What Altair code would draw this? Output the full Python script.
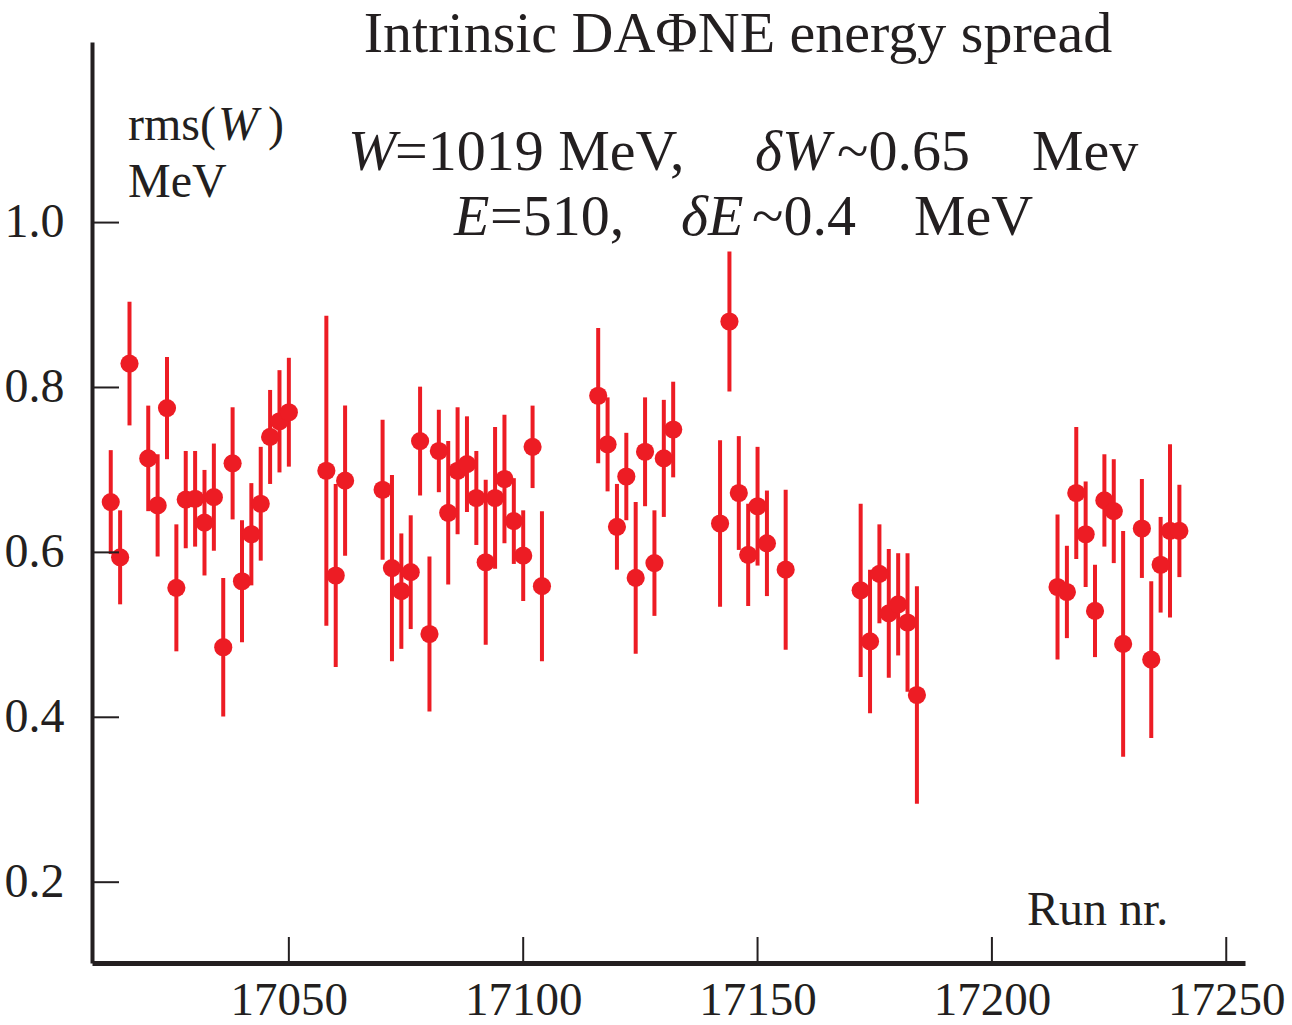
import altair as alt
import pandas as pd

# ---- data ----
run = [17012, 17014, 17016, 17020, 17022, 17024, 17026, 17028, 17030, 17032,
       17034, 17036, 17038, 17040, 17042, 17044, 17046, 17048, 17050,
       17058, 17060, 17062, 17070, 17072, 17074, 17076, 17078, 17080, 17082,
       17084, 17086, 17088, 17090, 17092, 17094, 17096, 17098, 17100, 17102, 17104,
       17116, 17118, 17120, 17122, 17124, 17126, 17128, 17130, 17132,
       17142, 17144, 17146, 17148, 17150, 17152, 17156,
       17172, 17174, 17176, 17178, 17180, 17182, 17184,
       17214, 17216, 17218, 17220, 17222, 17224, 17226, 17228,
       17232, 17234, 17236, 17238, 17240]

rms_w = [0.661, 0.594, 0.829, 0.714, 0.657, 0.775, 0.557, 0.664, 0.665, 0.636,
         0.667, 0.485, 0.708, 0.565, 0.622, 0.659, 0.740, 0.759, 0.770,
         0.699, 0.572, 0.687, 0.676, 0.581, 0.553, 0.576, 0.735, 0.501, 0.723,
         0.648, 0.699, 0.707, 0.666, 0.588, 0.666, 0.689, 0.638, 0.596, 0.728, 0.559,
         0.790, 0.731, 0.631, 0.692, 0.569, 0.722, 0.587, 0.714, 0.749,
         0.635, 0.880, 0.672, 0.597, 0.656, 0.611, 0.579,
         0.554, 0.492, 0.574, 0.526, 0.537, 0.515, 0.427,
         0.558, 0.552, 0.672, 0.622, 0.529, 0.663, 0.650, 0.489,
         0.629, 0.470, 0.585, 0.626, 0.626]

rms_err = [0.063, 0.057, 0.075, 0.064, 0.062, 0.062, 0.077, 0.059, 0.058, 0.064,
           0.065, 0.084, 0.068, 0.074, 0.062, 0.069, 0.057, 0.062, 0.066,
           0.188, 0.111, 0.091, 0.085, 0.113, 0.070, 0.069, 0.066, 0.094, 0.050,
           0.087, 0.077, 0.058, 0.057, 0.100, 0.086, 0.078, 0.052, 0.055, 0.050, 0.091,
           0.082, 0.057, 0.052, 0.053, 0.092, 0.066, 0.064, 0.071, 0.058,
           0.101, 0.085, 0.069, 0.062, 0.072, 0.064, 0.097,
           0.105, 0.087, 0.060, 0.078, 0.062, 0.084, 0.132,
           0.088, 0.056, 0.080, 0.064, 0.056, 0.056, 0.063, 0.137,
           0.060, 0.095, 0.058, 0.105, 0.056]

x_ticks = [17050, 17100, 17150, 17200, 17250]
y_ticks = [0.2, 0.4, 0.6, 0.8, 1.0]

# ---- layout / style ----
W, H = 1153, 921
RED = "#ed1c24"
INK = "#231f20"
FONT = "Liberation Serif"

df = pd.DataFrame({"run": run, "rms": rms_w, "err": rms_err})
df["lo"] = df["rms"] - df["err"]
df["hi"] = df["rms"] + df["err"]

xs = alt.Scale(domain=[17008, 17254], nice=False, zero=False)
ys = alt.Scale(domain=[0.102, 1.219], nice=False, zero=False)

x_axis = alt.Axis(values=x_ticks, format="d", ticks=False, grid=False, title=None,
                  domainColor=INK, domainWidth=5, labelFont=FONT, labelFontSize=47,
                  labelColor=INK, labelPadding=14, labelFlush=False)
y_axis = alt.Axis(values=y_ticks, format=".1f", ticks=False, grid=False, title=None,
                  domainColor=INK, domainWidth=4, labelFont=FONT, labelFontSize=48,
                  labelColor=INK, labelPadding=28, labelFlush=False)

base = alt.Chart(df)

bars = base.mark_rule(color=RED, strokeWidth=4).encode(
    x=alt.X("run:Q", scale=xs, axis=x_axis),
    y=alt.Y("lo:Q", scale=ys, axis=y_axis),
    y2="hi:Q",
)
dots = base.mark_circle(color=RED, size=330, opacity=1).encode(
    x=alt.X("run:Q", scale=xs),
    y=alt.Y("rms:Q", scale=ys),
)

# inward ticks
yt = alt.Chart(pd.DataFrame({"v": y_ticks})).mark_rule(color=INK, strokeWidth=2).encode(
    y=alt.Y("v:Q", scale=ys), x=alt.value(0), x2=alt.value(27))
xt = alt.Chart(pd.DataFrame({"v": x_ticks})).mark_rule(color=INK, strokeWidth=2).encode(
    x=alt.X("v:Q", scale=xs), y=alt.value(H), y2=alt.value(H - 26))


def label(text, x, y, size=48, italic=False, align="left"):
    return alt.Chart(pd.DataFrame({"t": [text]})).mark_text(
        font=FONT, fontSize=size, fontStyle="italic" if italic else "normal",
        align=align, baseline="alphabetic", color=INK,
    ).encode(text="t:N", x=alt.value(x), y=alt.value(y))


texts = [
    label("Intrinsic DAΦNE energy spread", 646, 10, size=58, align="center"),
    # line 2
    label("W", 256, 128, size=58, italic=True),
    label("=1019 MeV,", 303, 128, size=58),
    label("δW", 663, 128, size=58, italic=True),
    label("~0.65", 745, 128, size=58),
    label("Mev", 940, 128, size=58),
    # line 3
    label("E", 362, 193, size=58, italic=True),
    label("=510,", 398, 193, size=58),
    label("δE", 589, 193, size=58, italic=True),
    label("~0.4", 660, 193, size=58),
    label("MeV", 822, 193, size=58),
    # y label
    label("rms(", 36, 98),
    label("W", 126, 98, italic=True),
    label(")", 176, 98),
    label("MeV", 36, 155),
    # x label
    label("Run nr.", 935, 883),
]

chart = alt.layer(bars, dots, yt, xt, *texts).properties(
    width=W, height=H,
    autosize=alt.AutoSizeParams(type="none"),
    padding={"left": 92, "top": 42, "right": 47, "bottom": 62},
    background="white",
).configure_view(stroke=None)

chart.save("out.html", embed_options={"renderer": "svg", "actions": False})
